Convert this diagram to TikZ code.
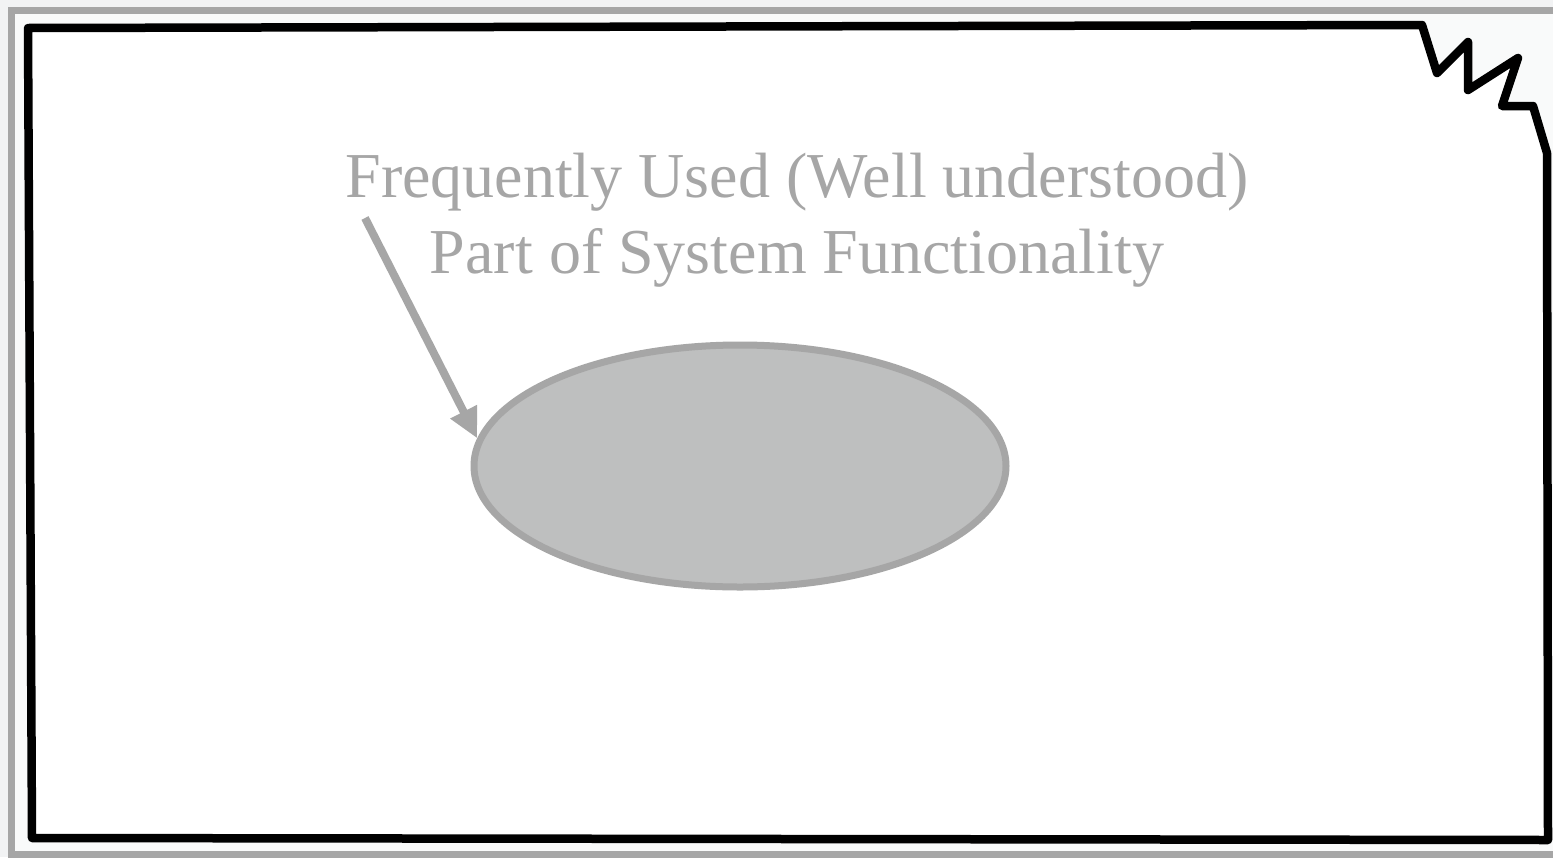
\documentclass[tikz,border=0pt]{standalone}
\usepackage{fontspec}
\setmainfont{Liberation Serif}
\usetikzlibrary{shapes.geometric,arrows.meta}
\definecolor{bgout}{HTML}{F2F3F4}
\definecolor{bgin}{HTML}{F9FAFA}
\definecolor{framegray}{HTML}{A6A6A6}
\definecolor{txtgray}{HTML}{A6A6A6}
\definecolor{ellfill}{HTML}{BEBFBF}
\tikzset{
  outline/.style={line width=8.5pt, draw=black, fill=white, line join=round},
  pointer/.style={line width=8pt, draw=framegray, -{Triangle[length=30pt,width=28pt]}},
  blob/.style={ellipse, draw=framegray, line width=7pt, fill=ellfill, inner sep=0pt, minimum width=532pt, minimum height=242pt},
  label/.style={text=txtgray, font=\fontsize{64}{76}\selectfont, align=center, inner sep=0pt}
}
\begin{document}
\begin{tikzpicture}[x=1pt,y=-1pt]
\useasboundingbox (0,0) rectangle (1553,857);
\fill[bgout] (0,0) rectangle (1553,857);
\begin{scope}
\clip (0,0) rectangle (1553,857);
\draw[framegray, line width=7pt, fill=bgin] (11,10) rectangle (1570,854);
\end{scope}
\draw[outline] (28,28) -- (1422,25) -- (1437,73) -- (1468,42) -- (1468,90) -- (1518,58) -- (1502,106) -- (1533,106) -- (1547,153) -- (1548,840) -- (32,838) -- cycle;
\node[label, anchor=base] (t1) at (797,197) {Frequently Used (Well understood)};
\node[label, anchor=base] (t2) at (797,273) {Part of System Functionality};
\node[blob] (e) at (740,466) {};
\coordinate (s) at (365,218);
\draw[pointer] (s) -- (e.174);
\end{tikzpicture}
\end{document}
